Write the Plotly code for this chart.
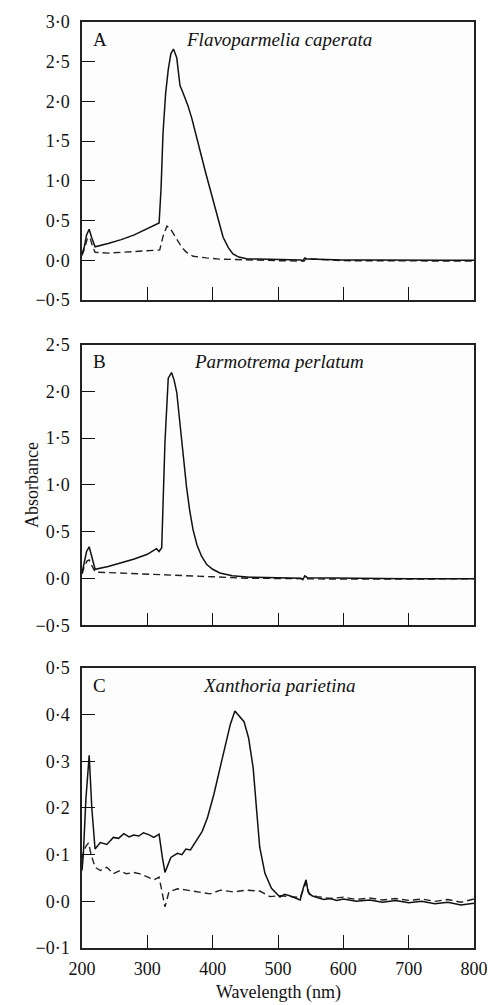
import plotly.graph_objects as go
from plotly.subplots import make_subplots

# panel A, Flavoparmelia caperata
wlA = [200, 203, 207, 211, 215, 220, 240, 260, 280, 300, 312, 318, 321, 324, 328, 332, 336, 340, 345, 350, 355, 362, 368,
       375, 381, 390, 401, 408, 416, 424, 431, 440, 452, 470, 500, 520, 535, 538, 541, 545, 560, 600, 650, 700, 750, 800]
absA = [0.08, 0.15, 0.32, 0.39, 0.28, 0.17, 0.21, 0.26, 0.32, 0.40, 0.44, 0.47, 0.90, 1.60, 2.10, 2.40, 2.60, 2.66, 2.55,
        2.20, 2.10, 1.95, 1.79, 1.58, 1.37, 1.08, 0.75, 0.52, 0.29, 0.16, 0.08, 0.04, 0.02, 0.015, 0.01, 0.01, 0.005,
        -0.005, 0.03, 0.015, 0.01, 0.005, 0.005, 0.0, 0.0, 0.0]
wlAd = [200, 204, 208, 212, 216, 220, 240, 260, 280, 300, 319, 324, 330, 335, 340, 347, 353, 360, 370, 390, 410, 431, 460,
        500, 540, 543, 600, 700, 800]
absAd = [0.06, 0.15, 0.27, 0.29, 0.18, 0.10, 0.09, 0.10, 0.11, 0.12, 0.13, 0.30, 0.43, 0.40, 0.33, 0.24, 0.16, 0.10, 0.05,
         0.03, 0.015, 0.01, 0.0, -0.005, -0.01, 0.02, -0.005, -0.01, -0.01]

# panel B, Parmotrema perlatum
wlB = [200, 203, 207, 211, 215, 220, 240, 260, 280, 300, 314, 318, 322, 327, 332, 337, 341, 345, 350, 355, 360, 365, 370,
       376, 383, 391, 400, 411, 430, 457, 500, 535, 538, 541, 545, 600, 700, 800]
absB = [0.06, 0.15, 0.29, 0.34, 0.22, 0.10, 0.13, 0.17, 0.21, 0.26, 0.32, 0.29, 0.33, 1.46, 2.14, 2.20, 2.12, 1.99, 1.65,
        1.28, 0.98, 0.72, 0.52, 0.36, 0.24, 0.15, 0.10, 0.06, 0.03, 0.015, 0.01, 0.005, -0.01, 0.03, 0.01, 0.005, 0.0, 0.0]
wlBd = [200, 204, 208, 211, 215, 220, 240, 260, 280, 300, 330, 360, 400, 450, 500, 600, 700, 800]
absBd = [0.05, 0.14, 0.19, 0.20, 0.14, 0.07, 0.065, 0.06, 0.055, 0.05, 0.045, 0.035, 0.02, 0.005, 0.0, -0.005, -0.005, 0.0]

# panel C, Xanthoria parietina
wlC = [200, 202, 206, 211, 215, 220, 228, 238, 248, 256, 264, 272, 279, 287, 294, 302, 310, 318, 323, 327, 336, 346, 353,
       359, 366, 376, 384, 392, 402, 415, 427, 434, 441, 448, 455, 462, 467, 472, 480, 490, 503, 510, 518, 526, 534, 539,
       543, 546, 552, 560, 570, 580, 590, 600, 620, 640, 660, 680, 700, 720, 740, 760, 780, 800]
absC = [0.066, 0.10, 0.22, 0.313, 0.2, 0.112, 0.126, 0.122, 0.137, 0.135, 0.145, 0.138, 0.142, 0.14, 0.147, 0.143, 0.137,
        0.144, 0.094, 0.062, 0.094, 0.103, 0.10, 0.112, 0.11, 0.131, 0.15, 0.179, 0.23, 0.308, 0.379, 0.408, 0.397, 0.385,
        0.35, 0.286, 0.2, 0.116, 0.06, 0.028, 0.009, 0.015, 0.012, 0.008, 0.003, 0.03, 0.046, 0.02, 0.012, 0.008, 0.004,
        0.006, 0.002, 0.005, 0.0, 0.003, -0.002, 0.002, -0.003, 0.0, -0.005, -0.002, -0.008, -0.004]
wlCd = [200, 203, 207, 210, 214, 220, 228, 238, 248, 258, 268, 279, 289, 299, 310, 318, 323, 327, 333, 346, 361, 381, 396,
        412, 432, 452, 472, 488, 503, 520, 534, 540, 543, 548, 560, 580, 600, 620, 640, 660, 680, 700, 720, 740, 760, 780, 800]
absCd = [0.09, 0.11, 0.12, 0.125, 0.1, 0.073, 0.066, 0.073, 0.059, 0.066, 0.059, 0.062, 0.059, 0.052, 0.046, 0.052, 0.017,
         -0.012, 0.02, 0.027, 0.024, 0.02, 0.016, 0.024, 0.02, 0.024, 0.022, 0.01, 0.012, 0.01, 0.008, 0.03, 0.04, 0.015,
         0.01, 0.006, 0.009, 0.004, 0.007, 0.003, 0.006, 0.002, 0.005, 0.0, 0.004, -0.002, 0.005]

letters = ['A', 'B', 'C']
species = ['Flavoparmelia caperata', 'Parmotrema perlatum', 'Xanthoria parietina']
yvalsA = [-0.5, 0, 0.5, 1, 1.5, 2, 2.5, 3]
yvalsB = [-0.5, 0, 0.5, 1, 1.5, 2, 2.5]
yvalsC = [-0.1, 0, 0.1, 0.2, 0.3, 0.4, 0.5]
xvals = [200, 300, 400, 500, 600, 700, 800]

font = 'Liberation Serif'


def lab(v, nd):
    s = ('%.' + str(nd) + 'f') % abs(v)
    s = s.replace('.', '\u00b7')
    return ('\u2212' + s) if v < 0 else s


fig = make_subplots(rows=3, cols=1)
panels = [(wlA, absA, wlAd, absAd, yvalsA), (wlB, absB, wlBd, absBd, yvalsB), (wlC, absC, wlCd, absCd, yvalsC)]
for i, (x1, y1, x2, y2, yv) in enumerate(panels):
    r = i + 1
    fig.add_trace(go.Scatter(x=x2, y=y2, mode='lines', line=dict(color='#222', width=1.4, dash='7px,4px')), row=r, col=1)
    fig.add_trace(go.Scatter(x=x1, y=y1, mode='lines', line=dict(color='#111', width=1.5)), row=r, col=1)
    fig.update_yaxes(range=[yv[0], yv[-1]], tickvals=yv, ticktext=[lab(v, 1) for v in yv], row=r, col=1)

domains = [[0.6998, 1.0], [0.3483, 0.6517], [0.0, 0.3024]]
for i in range(3):
    sx = '' if i == 0 else str(i + 1)
    fig.layout['yaxis' + sx].domain = domains[i]
    fig.layout['xaxis' + sx].domain = [0, 1]
    fig.add_annotation(x=0.024, y=domains[i][1] - 0.005, xref='paper', yref='paper', text=letters[i], showarrow=False,
                       xanchor='left', yanchor='top', font=dict(family=font, size=19, color='#111'))
    fig.add_annotation(x=0.502, y=domains[i][1] - 0.005, xref='paper', yref='paper', text='<i>' + species[i] + '</i>',
                       showarrow=False, xanchor='center', yanchor='top', font=dict(family=font, size=19, color='#111'))

fig.update_xaxes(range=[200, 800], tickvals=xvals, ticks='inside', ticklen=13, tickwidth=1.2, tickcolor='#111',
                 showline=True, linecolor='#222', linewidth=1.5, mirror=True, showgrid=False, zeroline=False,
                 showticklabels=False, ticklabelstandoff=4)
fig.update_xaxes(showticklabels=True, row=3, col=1)
fig.update_yaxes(ticks='inside', ticklen=13, tickwidth=1.2, tickcolor='#111', showline=True, linecolor='#222',
                 linewidth=1.5, mirror=True, showgrid=False, zeroline=False, ticklabelstandoff=7)

fig.add_annotation(x=-0.158, y=0.5, xref='paper', yref='paper', text='Absorbance', textangle=-90, showarrow=False,
                   font=dict(family=font, size=18, color='#111'))
fig.add_annotation(x=0.502, y=-0.048, xref='paper', yref='paper', text='Wavelength (nm)', showarrow=False,
                   yanchor='middle', font=dict(family=font, size=18, color='#111'))

# page body adds 8px margin, so the figure is 8px smaller than the window on each side
fig.update_layout(width=487, height=997, margin=dict(l=74, r=21, t=4, b=57), showlegend=False,
                  paper_bgcolor='white', plot_bgcolor='#fdfdfd',
                  font=dict(family=font, size=18, color='#111'))

fig.write_html('out.html')
